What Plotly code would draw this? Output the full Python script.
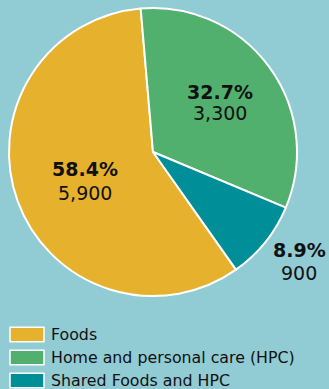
import plotly.graph_objects as go

labels = ["Foods", "Home and personal care (HPC)", "Shared Foods and HPC"]
values = [5900, 3300, 900]
colors = ["#E6B12D", "#52B06E", "#008F99"]

# label anchor positions in pixels (x centre, y of percent line, y of value line)
label_px = [(84.5, 168.5, 193.0), (219.5, 92.5, 113.0), (299.0, 250.0, 273.0)]

BG = "#91CBD4"
FONT = "DejaVu Sans"
W, H = 329, 389

fig = go.Figure()
fig.add_trace(go.Pie(
    labels=labels,
    values=values,
    sort=False,
    direction="clockwise",
    rotation=144.8,
    marker=dict(colors=colors, line=dict(color="white", width=2)),
    textinfo="none",
    hoverinfo="label+value+percent",
    showlegend=False,
    automargin=False,
    domain=dict(x=[9/W, 297/W], y=[1-296/H, 1-8/H]),
))

total = sum(values)
annotations = []
for v, (px, py1, py2) in zip(values, label_px):
    annotations.append(dict(xref="paper", yref="paper", x=px/W, y=1-py1/H,
                            xanchor="center", yanchor="middle", showarrow=False,
                            text=f"<b>{v/total*100:.1f}%</b>",
                            font=dict(family=FONT, size=19, color="#111111")))
    annotations.append(dict(xref="paper", yref="paper", x=px/W, y=1-py2/H,
                            xanchor="center", yanchor="middle", showarrow=False,
                            text=f"{v:,}",
                            font=dict(family=FONT, size=19, color="#111111")))

# manual legend (wide swatches like the original)
shapes = []
for i, (lab, col) in enumerate(zip(labels, colors)):
    yc = 1 - (334.5 + i * 23) / H
    h = 14.5 / H
    shapes.append(dict(type="rect", xref="paper", yref="paper",
                       x0=10/W, x1=44/W, y0=yc - h/2, y1=yc + h/2,
                       fillcolor=col, line=dict(color="white", width=1.5)))
    annotations.append(dict(xref="paper", yref="paper", x=49/W, y=yc,
                            xanchor="left", yanchor="middle", showarrow=False,
                            text=lab, font=dict(family=FONT, size=15.8, color="#111111")))

fig.update_layout(
    width=W, height=H,
    margin=dict(l=0, r=0, t=0, b=0),
    paper_bgcolor=BG, plot_bgcolor=BG,
    shapes=shapes, annotations=annotations,
)
fig.write_html(
    "out.html",
    config={"displayModeBar": False},
    post_script="document.body.style.margin='0';document.body.style.overflow='hidden';",
)
